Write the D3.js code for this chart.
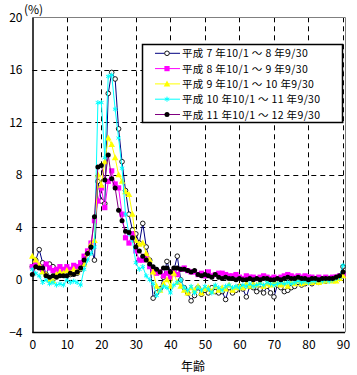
<!DOCTYPE html>
<html><head><meta charset="utf-8">
<script src="https://cdn.jsdelivr.net/npm/d3@7"></script>
<style>html,body{margin:0;padding:0;background:#fff;}svg{display:block;}</style>
</head><body>
<svg id="c" width="357" height="375"></svg>
<script>
const ages = d3.range(0, 91);
const xTicks = [0,10,20,30,40,50,60,70,80,90];
const yTicks = [-4,0,4,8,12,16,20];
const seriesNames = ["平成 7 年10/1 ～ 8 年9/30","平成 8 年10/1 ～ 9 年9/30","平成 9 年10/1 ～ 10 年9/30","平成 10 年10/1 ～ 11 年9/30","平成 11 年10/1 ～ 12 年9/30"];
const h7 = [1.0,1.5,2.3,1.3,0.4,1.2,1.0,0.6,0.5,0.4,0.5,0.4,0.6,0.5,0.8,1.2,2.0,2.5,1.5,7.5,6.0,5.8,14.2,15.8,15.3,11.5,9.0,6.8,5.0,3.8,3.5,2.8,4.3,2.5,1.5,-1.4,-1.0,-0.7,0.2,1.4,0.6,0.7,1.8,0.0,-0.6,-1.0,-1.6,-1.2,-0.6,-1.1,-0.8,-1.0,-0.6,-0.9,-1.0,-0.9,-1.5,-0.6,-1.0,-0.8,-0.5,-0.7,-1.3,-0.5,-0.6,-0.9,-0.7,-1.0,-0.5,-1.0,-1.3,-0.4,-0.6,-0.9,-0.8,-0.6,-0.5,-0.2,-0.4,-0.3,-0.2,-0.3,-0.1,-0.2,0.0,-0.1,0.1,0.0,0.2,0.1,1.0];
const h8 = [1.0,1.2,1.0,0.8,1.2,0.9,0.7,0.8,1.0,0.8,1.0,0.8,1.1,1.0,1.3,1.8,2.2,2.8,4.5,6.0,7.0,5.5,7.5,8.3,7.3,7.0,5.0,3.2,2.8,3.5,2.2,1.5,1.5,1.8,1.0,0.8,0.5,0.6,0.3,0.5,0.2,0.6,0.4,0.8,0.9,0.7,0.6,0.6,0.4,0.5,0.3,0.6,0.3,0.4,0.5,0.5,0.4,0.3,0.3,0.4,0.2,0.1,0.3,0.2,0.2,0.1,0.2,0.3,0.2,0.1,0.2,0.1,0.2,0.3,0.4,0.3,0.2,0.3,0.2,0.3,0.2,0.2,0.1,0.2,0.1,0.2,0.1,0.2,0.2,0.3,0.4];
const h9 = [1.8,1.5,1.1,0.6,0.4,0.0,-0.1,0.4,0.6,0.5,0.7,0.5,0.8,0.6,0.9,1.2,2.0,2.7,3.0,8.0,7.2,9.0,10.8,10.3,9.3,8.0,7.5,6.7,6.5,5.0,3.0,2.7,2.8,2.0,1.5,0.6,-0.5,-0.8,-0.3,0.0,-0.5,0.5,-0.2,-0.5,-0.8,-1.0,-0.6,-0.8,-0.5,-1.0,-0.7,-0.6,-0.9,-0.5,-0.8,-0.6,-0.7,-0.4,-0.8,-0.6,-0.5,-0.6,-0.3,-0.5,-0.3,-0.4,-0.2,-0.5,-0.3,-0.4,-0.2,-0.3,-0.4,-0.3,-0.5,-0.2,-0.3,-0.1,-0.3,-0.2,-0.1,-0.2,-0.1,-0.2,-0.1,-0.1,0.0,-0.1,-0.1,0.1,0.3];
const h10 = [0.8,0.5,0.3,-0.2,0.0,-0.3,-0.2,-0.4,-0.3,-0.4,0.0,-0.2,-0.1,-0.2,-0.4,0.8,1.5,2.0,2.5,13.5,13.5,9.3,15.5,15.6,13.0,10.8,8.5,5.0,3.5,3.0,1.3,0.8,1.0,0.3,0.0,-0.3,-1.2,-0.8,-0.5,-0.6,-1.0,-0.4,-0.2,0.0,-0.6,-0.8,-0.5,-1.0,-0.6,-0.8,-0.5,-0.7,-1.0,-0.4,-0.6,-0.8,-0.5,-0.4,-0.6,-0.5,-0.6,-0.4,-0.5,-0.3,-0.5,-0.4,-0.3,-0.4,-0.2,-0.3,-0.4,-0.3,-0.2,-0.3,-0.2,-0.3,-0.2,-0.1,-0.2,-0.1,-0.2,-0.1,-0.1,0.0,-0.1,0.0,-0.1,0.0,0.1,0.2,1.1];
const h11 = [0.4,1.0,0.9,0.9,0.3,0.2,0.3,0.2,0.3,0.3,0.3,0.5,0.4,0.6,0.9,1.5,2.0,2.5,4.8,8.6,8.7,7.6,9.5,7.7,7.0,5.3,4.5,3.7,3.6,3.2,2.5,2.2,1.8,1.5,1.2,1.0,0.8,0.6,0.9,0.9,0.6,0.9,0.9,0.8,0.8,0.7,0.6,0.7,0.4,0.3,0.4,0.3,0.2,0.4,0.2,0.1,0.2,0.1,0.1,0.0,0.1,0.0,0.0,0.1,0.0,0.1,0.0,0.1,0.1,0.0,0.0,0.1,0.0,0.1,0.2,0.1,0.1,0.2,0.1,0.1,0.0,0.1,0.1,0.0,0.1,0.1,0.1,0.1,0.2,0.3,0.6];

const series = [
  {name: seriesNames[0], values: h7, line: "#000080", marker: "circleOpen"},
  {name: seriesNames[1], values: h8, line: "#ff00ff", marker: "square"},
  {name: seriesNames[2], values: h9, line: "#ffff00", marker: "triangle"},
  {name: seriesNames[3], values: h10, line: "#00ffff", marker: "star"},
  {name: seriesNames[4], values: h11, line: "#800080", marker: "dot"}
];

const svg = d3.select("#c");
const L = 32.3, R = 345, T = 17.3, B = 332.3;
const x = d3.scaleLinear().domain([0, 90]).range([L, 343]);
const y = d3.scaleLinear().domain([-4, 20]).range([B, T]);
const font = "'Noto Sans CJK JP', sans-serif";

// grid
const g = svg.append("g");
g.selectAll("line.vg").data(xTicks.filter(d => d > 0)).enter().append("line")
  .attr("x1", d => Math.round(x(d)) + 0.5).attr("x2", d => Math.round(x(d)) + 0.5)
  .attr("y1", T).attr("y2", B)
  .attr("stroke", "#000").attr("stroke-width", 1).attr("stroke-dasharray", "5,4");
g.selectAll("line.hg").data(yTicks.filter(d => d > -4 && d < 20)).enter().append("line")
  .attr("y1", d => Math.round(y(d)) + 0.5).attr("y2", d => Math.round(y(d)) + 0.5)
  .attr("x1", L).attr("x2", R)
  .attr("stroke", "#000").attr("stroke-width", 1).attr("stroke-dasharray", "5,4");
// frame
svg.append("line").attr("x1", L).attr("x2", R).attr("y1", Math.round(T)+0.5).attr("y2", Math.round(T)+0.5).attr("stroke", "#808080");
svg.append("line").attr("x1", R+0.5).attr("x2", R+0.5).attr("y1", T).attr("y2", B).attr("stroke", "#808080");

// axes
const yAxis = d3.axisLeft(y).tickValues(yTicks).tickSize(0).tickPadding(10);
const ya = svg.append("g").attr("transform", `translate(${Math.round(L)+0.5},0)`).call(yAxis);
ya.select(".domain").attr("stroke", "#000").attr("stroke-width", 1.5);
ya.selectAll("text").attr("font-family", font).attr("font-size", 12).attr("fill", "#000");
const xAxis = d3.axisBottom(x).tickValues(xTicks).tickSize(0).tickPadding(8);
const xa = svg.append("g").attr("transform", `translate(0,${Math.round(B)+0.5})`).call(xAxis);
xa.select(".domain").attr("stroke", "#000").attr("stroke-width", 1.5).attr("d", `M${L},0H${R}`);
xa.selectAll("text").attr("font-family", font).attr("font-size", 12).attr("fill", "#000");

svg.append("text").attr("x", 24).attr("y", 14).attr("font-family", font).attr("font-size", 12).text("(%)");
svg.append("text").attr("x", 193).attr("y", 371).attr("text-anchor", "middle").attr("font-family", font).attr("font-size", 12).text("年齢");

function drawMarker(sel, type, color) {
  if (type === "circleOpen") {
    sel.append("circle").attr("r", 2.3).attr("fill", "#fff").attr("stroke", "#000").attr("stroke-width", 0.9);
  } else if (type === "square") {
    sel.append("rect").attr("x", -2.6).attr("y", -2.6).attr("width", 5.2).attr("height", 5.2).attr("fill", color);
  } else if (type === "triangle") {
    sel.append("path").attr("d", "M0,-3.5L3.3,2.5L-3.3,2.5Z").attr("fill", color);
  } else if (type === "star") {
    sel.append("path").attr("d", d3.symbol(d3.symbolAsterisk, 18)()).attr("stroke", color).attr("stroke-width", 1).attr("fill", "none");
  } else if (type === "dot") {
    sel.append("circle").attr("r", 2.5).attr("fill", "#000");
  }
}

const line = d3.line().x((d, i) => x(ages[i])).y(d => y(d));
series.forEach(s => {
  const sg = svg.append("g");
  sg.append("path").datum(s.values).attr("d", line).attr("fill", "none").attr("stroke", s.line).attr("stroke-width", 1);
  const m = sg.selectAll("g.m").data(s.values).enter().append("g")
    .attr("transform", (d, i) => `translate(${x(ages[i])},${y(d)})`);
  m.each(function() { drawMarker(d3.select(this), s.marker, s.line); });
});

// legend
const lg = svg.append("g");
lg.append("rect").attr("x", 142.5).attr("y", 44.5).attr("width", 200).attr("height", 78).attr("fill", "#fff").attr("stroke", "#000").attr("stroke-width", 1.5);
series.forEach((s, i) => {
  const yy = 53.3 + i * 15.3;
  lg.append("line").attr("x1", 155).attr("x2", 180).attr("y1", yy).attr("y2", yy).attr("stroke", s.line).attr("stroke-width", 1);
  const mg = lg.append("g").attr("transform", `translate(167,${yy})`);
  drawMarker(mg, s.marker, s.line);
  lg.append("text").attr("x", 182).attr("y", yy + 4).attr("font-family", font).attr("font-size", 10.5)
    .attr("letter-spacing", 0.35).attr("fill", "#000").text(s.name);
});
</script>
</body></html>
